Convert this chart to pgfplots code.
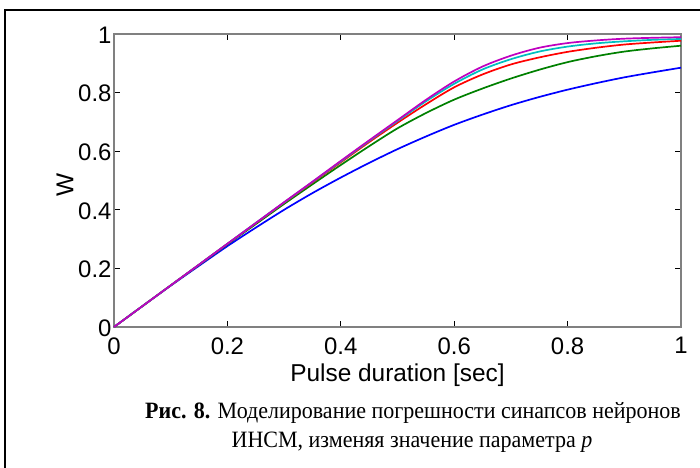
\documentclass[border=0pt]{standalone}
\usepackage{pgfplots}
\usepackage{pgfplotstable}
\usepackage{graphicx}
\pgfplotsset{compat=1.18}
\usepackage{fontspec}
\setmainfont{Liberation Sans}
\newfontfamily\capfont{Liberation Serif}
\definecolor{mgreen}{rgb}{0,0.5,0}
\definecolor{mcyan}{rgb}{0,0.75,0.75}
\definecolor{mmag}{rgb}{0.75,0,0.75}
\definecolor{axgray}{RGB}{128,128,128}
\pgfplotstableread{
x    b     g     r     c     m
0    0     0     0     0     0
0.05 0.071 0.071 0.071 0.071 0.071
0.1  0.141 0.142 0.142 0.142 0.142
0.15 0.209 0.212 0.213 0.213 0.213
0.2  0.276 0.282 0.284 0.284 0.284
0.25 0.339 0.351 0.354 0.355 0.355
0.3  0.400 0.420 0.424 0.425 0.426
0.35 0.457 0.487 0.493 0.495 0.496
0.4  0.510 0.553 0.562 0.565 0.567
0.45 0.560 0.617 0.631 0.635 0.637
0.5  0.607 0.678 0.697 0.703 0.706
0.55 0.650 0.730 0.760 0.770 0.775
0.6  0.690 0.776 0.818 0.830 0.838
0.65 0.725 0.814 0.862 0.879 0.889
0.7  0.757 0.848 0.896 0.914 0.926
0.75 0.785 0.878 0.920 0.940 0.953
0.8  0.810 0.904 0.939 0.957 0.969
0.85 0.832 0.924 0.953 0.968 0.978
0.9  0.852 0.940 0.964 0.975 0.984
0.95 0.869 0.951 0.971 0.980 0.987
1.0  0.885 0.960 0.977 0.983 0.989
}\datatab
\begin{document}
\begin{tikzpicture}[x=1bp,y=1bp]
\useasboundingbox (0,0) rectangle (700,468);
\begin{scope}
\clip (0,0) rectangle (700,468);
\draw[line width=2.5bp] (5,-20) -- (5,458) -- (720,458);
\end{scope}
\begin{axis}[
  at={(114bp,141bp)}, anchor=south west,
  scale only axis, width=567bp, height=293bp,
  xmin=0, xmax=1, ymin=0, ymax=1,
  xtick={0,0.2,0.4,0.6,0.8,1}, ytick={0,0.2,0.4,0.6,0.8,1},
  xticklabels={0,0.2,0.4,0.6,0.8,1}, yticklabels={0,0.2,0.4,0.6,0.8,1},
  tick align=inside, major tick length=6bp,
  every tick/.style={black, line width=1bp},
  axis line style={axgray, line width=1.5bp},
  tick label style={font=\fontsize{24}{24}\selectfont},
  label style={font=\fontsize{24.5}{24.5}\selectfont},
  xlabel={Pulse duration [sec]}, ylabel={W},
  xlabel style={yshift=-3bp},
  ylabel style={yshift=-2bp, xshift=-4bp},
  xticklabel style={yshift=-7bp},
  yticklabel style={xshift=1bp, yshift=-1bp},
  clip=false,
]
\addplot[blue, line width=1.7bp, smooth] table[x=x,y=b] {\datatab};
\addplot[mgreen, line width=1.7bp, smooth] table[x=x,y=g] {\datatab};
\addplot[red, line width=1.7bp, smooth] table[x=x,y=r] {\datatab};
\addplot[mcyan, line width=1.7bp, smooth] table[x=x,y=c] {\datatab};
\addplot[mmag, line width=1.7bp, smooth] table[x=x,y=m] {\datatab};
\end{axis}
\node[anchor=base, font=\capfont\fontsize{23.5}{23.5}\selectfont] at (413,49) {\scalebox{0.94}[1]{\textbf{Рис. 8.} Моделирование погрешности синапсов нейронов}};
\node[anchor=base, font=\capfont\fontsize{23.5}{23.5}\selectfont] at (412,20) {\scalebox{0.94}[1]{ИНСМ, изменяя значение параметра \textit{p}}};
\end{tikzpicture}
\end{document}
